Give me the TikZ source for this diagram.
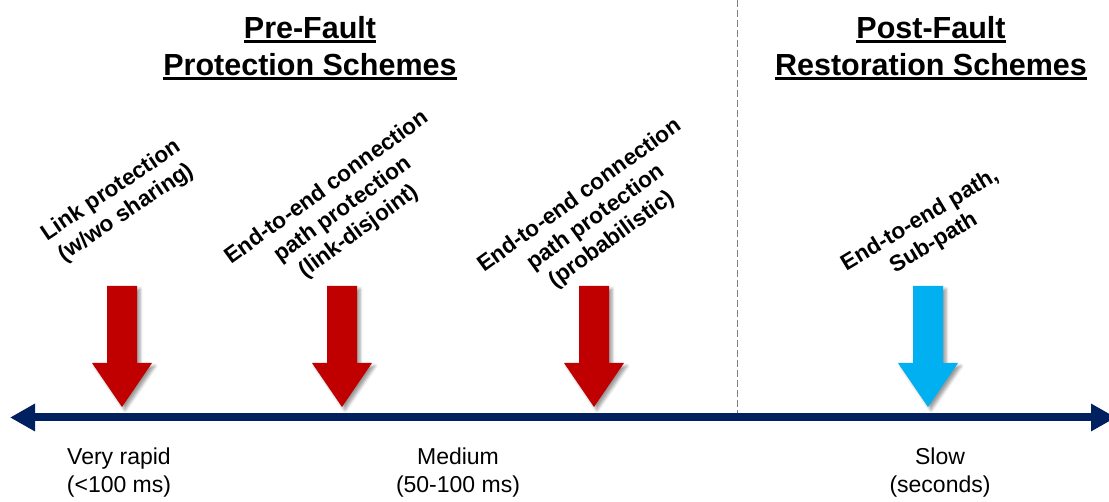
\documentclass[tikz,border=0pt]{standalone}
\usepackage{fontspec}
\setmainfont{Liberation Sans}
\usetikzlibrary{arrows.meta,shadows.blur}
\definecolor{redA}{RGB}{192,0,0}
\definecolor{blueA}{RGB}{0,176,240}
\definecolor{navy}{RGB}{0,32,96}
\newcommand\myul[1]{\setbox0\hbox{#1}\rlap{\rule[-5pt]{\wd0}{2.6pt}}\box0}
\tikzset{
  title/.style={align=center, inner sep=0pt, font=\bfseries\fontsize{30.5}{37}\selectfont},
  rotlabel/.style={align=center, inner sep=0pt, font=\bfseries\fontsize{22.5}{27}\selectfont},
  speed/.style={align=center, inner sep=0pt, font=\fontsize{23}{28}\selectfont},
  axis/.style={navy, line width=8pt, {Triangle[length=25pt,width=26pt]}-{Triangle[length=25pt,width=26pt]}},
  divider/.style={gray, line width=1pt, dash pattern=on 7pt off 3pt},
  ashadow/.style={blur shadow={shadow xshift=3pt, shadow yshift=-3pt, shadow blur radius=3pt}},
  pics/downarrow/.style={code={
    \path[fill=#1, ashadow] (-15,0) -- (15,0) -- (15,77) -- (30,77) -- (0,121) -- (-30,77) -- (-15,77) -- cycle;
  }}
}
\begin{document}
\begin{tikzpicture}[x=1pt,y=-1pt]
\useasboundingbox (0,0) rectangle (1109,502);
% divider
\coordinate (dtop) at (737,0);
\coordinate (dbot) at (737,417);
\draw[divider] (dtop) -- (dbot);
% axis
\coordinate (L) at (10,417.5);
\coordinate (R) at (1116,417.5);
\draw[axis] (L) -- (R);
% titles
\node[title] (pre) at (310,48) {\myul{Pre-Fault}\\\myul{Protection Schemes}};
\node[title] (post) at (931,48) {\myul{Post-Fault}\\\myul{Restoration Schemes}};
% arrows
\pic (a1) at (122,286) {downarrow=redA};
\pic (a2) at (342,286) {downarrow=redA};
\pic (a3) at (594,286) {downarrow=redA};
\pic (a4) at (928,286) {downarrow=blueA};
% rotated labels
\node[rotlabel, rotate=34] (l1) at (119,202) {Link protection\\(w/wo sharing)};
\node[rotlabel, rotate=36] (l2) at (343,210) {End-to-end connection\\path protection\\(link-disjoint)};
\node[rotlabel, rotate=36] (l3) at (596,218) {End-to-end connection\\path protection\\(probabilistic)};
\node[rotlabel, rotate=31] (l4) at (927,232) {End-to-end path,\\Sub-path};
% speed labels
\node[speed] (s1) at (119,473) {Very rapid\\(<100 ms)};
\node[speed] (s2) at (458,473) {Medium\\(50-100 ms)};
\node[speed] (s3) at (940,473) {Slow\\(seconds)};
\end{tikzpicture}
\end{document}
